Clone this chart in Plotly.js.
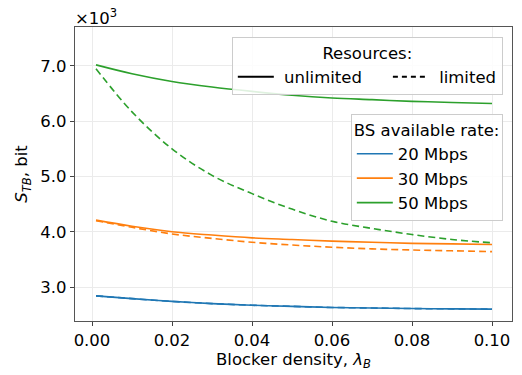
<!DOCTYPE html>
<html><head><meta charset="utf-8">
<script src="https://cdn.plot.ly/plotly-3.0.1.min.js"></script>
<style>html,body{margin:0;padding:0;background:#fff}#chart{width:522px;height:375px}</style>
</head><body><div id="chart"></div>
<script>
// Blocker density
const lambdaB = [0.001, 0.01, 0.02, 0.03, 0.04, 0.05, 0.06, 0.07, 0.08, 0.09, 0.10];
// S_TB in units of 10^3 bit
const s20Unlim = [2.84, 2.79, 2.74, 2.70, 2.67, 2.65, 2.63, 2.62, 2.61, 2.605, 2.60];
const s20Lim   = [2.84, 2.79, 2.74, 2.70, 2.67, 2.65, 2.63, 2.62, 2.61, 2.605, 2.60];
const s30Unlim = [4.21, 4.10, 4.00, 3.94, 3.89, 3.86, 3.83, 3.81, 3.79, 3.78, 3.77];
const s30Lim   = [4.20, 4.08, 3.96, 3.88, 3.81, 3.76, 3.72, 3.69, 3.67, 3.655, 3.64];
const s50Unlim = [7.02, 6.86, 6.72, 6.62, 6.54, 6.47, 6.42, 6.39, 6.36, 6.34, 6.32];
const s50Lim   = [6.95, 6.17, 5.50, 5.02, 4.69, 4.41, 4.19, 4.06, 3.95, 3.86, 3.80];
const rateNames = ['20 Mbps', '30 Mbps', '50 Mbps'];
const resourceNames = ['unlimited', 'limited'];
const yTicks = [3, 4, 5, 6, 7];
const xTicks = [0, 0.02, 0.04, 0.06, 0.08, 0.10];

const colors = ['#1f77b4', '#ff7f0e', '#2ca02c'];
const DASH = '7px,4px';
const unlim = [s20Unlim, s30Unlim, s50Unlim];
const lim = [s20Lim, s30Lim, s50Lim];
const traces = [];
traces.push({x:[null], y:[null], mode:'lines', name:'&nbsp;' + resourceNames[0] + '&nbsp;&nbsp;&nbsp;&nbsp;', line:{color:'black', width:2}, legend:'legend', showlegend:true});
traces.push({x:[null], y:[null], mode:'lines', name:'&nbsp;' + resourceNames[1], line:{color:'black', width:2, dash:'5px,4px'}, legend:'legend', showlegend:true});
for (let i = 0; i < 3; i++) {
  traces.push({x:lambdaB, y:unlim[i], mode:'lines', name:rateNames[i], line:{color:colors[i], width:1.6, shape:'spline'}, legend:'legend2', showlegend:true});
}
for (let i = 0; i < 3; i++) {
  traces.push({x:lambdaB, y:lim[i], mode:'lines', name:rateNames[i], line:{color:colors[i], width:1.6, dash:DASH, shape:'spline'}, showlegend:false});
}

const FS = 16.5;
const fam = 'DejaVu Sans, sans-serif';
const f = {size:FS, family:fam, color:'#000'};
const layout = {
  width:522, height:375,
  margin:{l:75, r:10, t:27, b:54},
  paper_bgcolor:'#fff', plot_bgcolor:'#fff',
  font:f,
  xaxis:{range:[-0.00425, 0.105], tickvals:xTicks, tickformat:'.2f', ticks:'outside', ticklen:4, tickcolor:'#444',
    showline:true, mirror:true, linecolor:'#555', linewidth:1.2, gridcolor:'#ebebeb', gridwidth:1, zeroline:false,
    tickfont:f,
    title:{text:'Blocker density, <i>λ</i><sub><i>B</i></sub>', font:f, standoff:3}},
  yaxis:{range:[2.385, 7.705], tickvals:yTicks, tickformat:'.1f', ticks:'outside', ticklen:4, tickcolor:'#444',
    showline:true, mirror:true, linecolor:'#555', linewidth:1.2, gridcolor:'#ebebeb', gridwidth:1, zeroline:false,
    tickfont:f,
    title:{text:'<i>S</i><sub><i>TB</i></sub>, bit', font:f, standoff:8}},
  legend:{x:0.979, xanchor:'right', y:0.966, yanchor:'top', orientation:'h', bgcolor:'rgba(255,255,255,0.85)',
    bordercolor:'#cccccc', borderwidth:1, font:f,
    title:{text:'Resources:', side:'top center', font:f},
    itemwidth:36},
  legend2:{x:0.979, xanchor:'right', y:0.704, yanchor:'top', bgcolor:'rgba(255,255,255,0.85)',
    bordercolor:'#cccccc', borderwidth:1, font:f,
    title:{text:'BS available rate:', side:'top', font:f},
    itemwidth:36, tracegroupgap:0},
  annotations:[{xref:'paper', yref:'paper', x:0, y:1, xanchor:'left', yanchor:'bottom', showarrow:false,
    text:'×10<sup>3</sup>', font:f, xshift:-2, yshift:-3}]
};
Plotly.newPlot('chart', traces, layout, {displayModeBar:false, staticPlot:true});
</script></body></html>
